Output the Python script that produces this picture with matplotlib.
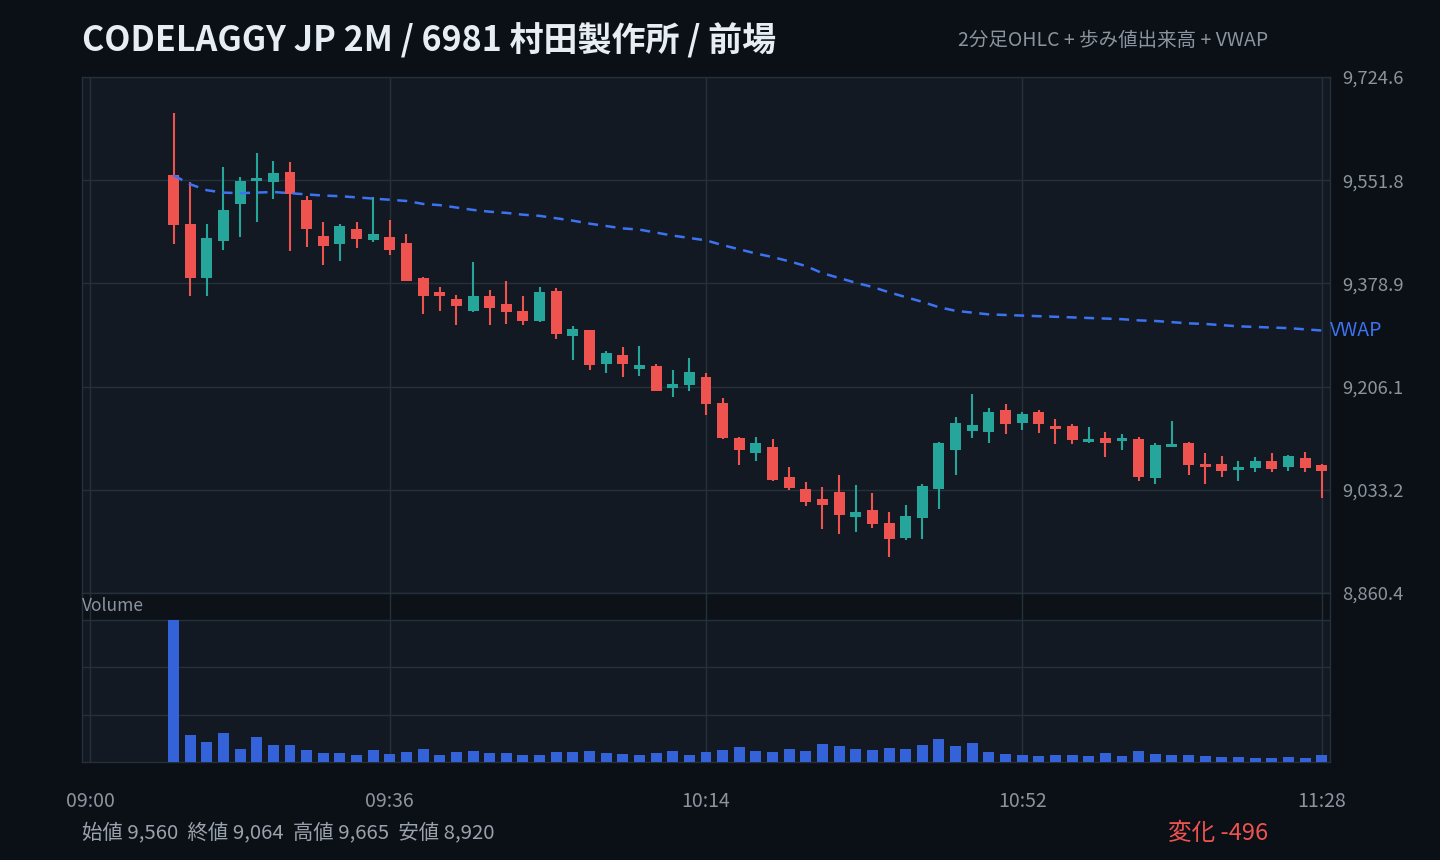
import numpy as np
import matplotlib
matplotlib.use("Agg")
import matplotlib.pyplot as plt

plt.rcParams['font.family'] = ['Noto Sans CJK JP', 'DejaVu Sans']

# --- data: 2-min bars, slots 09:00..11:28 (75 slots), prints start at slot 5 (09:10) ---
FIRST = 5
opens = [9560, 9478, 9388, 9450, 9512, 9550, 9549, 9565, 9518, 9458,
         9445, 9470, 9452, 9456, 9446, 9388, 9364, 9353, 9333, 9358,
         9344, 9333, 9316, 9366, 9291, 9301, 9244, 9259, 9236, 9241,
         9204, 9209, 9222, 9179, 9120, 9095, 9105, 9055, 9035, 9018,
         9030, 8988, 9000, 8978, 8953, 8986, 9035, 9100, 9132, 9130,
         9167, 9145, 9164, 9140, 9140, 9114, 9120, 9115, 9119, 9053,
         9105, 9112, 9077, 9077, 9067, 9070, 9082, 9072, 9087, 9075]
highs = [9665, 9549, 9478, 9574, 9557, 9597, 9584, 9582, 9525, 9482,
         9478, 9482, 9523, 9485, 9462, 9390, 9373, 9359, 9415, 9368,
         9383, 9358, 9373, 9371, 9308, 9301, 9266, 9272, 9274, 9244,
         9234, 9254, 9229, 9187, 9122, 9122, 9119, 9072, 9047, 9038,
         9058, 9042, 9028, 8996, 9008, 9043, 9114, 9155, 9194, 9170,
         9177, 9164, 9167, 9152, 9144, 9139, 9130, 9127, 9122, 9112,
         9149, 9114, 9095, 9090, 9082, 9088, 9095, 9092, 9097, 9077]
lows = [9445, 9358, 9357, 9435, 9457, 9482, 9521, 9434, 9440, 9410,
        9417, 9439, 9449, 9426, 9383, 9328, 9333, 9309, 9331, 9309,
        9311, 9309, 9314, 9286, 9251, 9234, 9229, 9222, 9224, 9199,
        9189, 9199, 9159, 9119, 9075, 9082, 9048, 9033, 9006, 8968,
        8960, 8963, 8970, 8920, 8950, 8951, 9001, 9058, 9120, 9112,
        9127, 9134, 9129, 9110, 9110, 9112, 9088, 9100, 9048, 9043,
        9105, 9058, 9043, 9055, 9048, 9063, 9063, 9065, 9063, 9020]
closes = [9476, 9388, 9455, 9502, 9550, 9555, 9564, 9529, 9470, 9442,
          9475, 9454, 9462, 9435, 9383, 9358, 9358, 9341, 9358, 9338,
          9331, 9316, 9364, 9294, 9303, 9242, 9262, 9244, 9242, 9199,
          9211, 9231, 9177, 9120, 9100, 9112, 9050, 9037, 9013, 9008,
          8991, 8996, 8976, 8951, 8990, 9040, 9112, 9145, 9142, 9164,
          9144, 9160, 9144, 9135, 9117, 9119, 9112, 9120, 9055, 9109,
          9110, 9075, 9072, 9065, 9072, 9082, 9068, 9090, 9070, 9064]
volumes = [428, 80, 59, 86, 38, 74, 50, 50, 35, 26,
           26, 20, 35, 23, 29, 38, 20, 29, 32, 26,
           26, 20, 20, 29, 29, 32, 26, 23, 20, 26,
           32, 20, 29, 35, 44, 32, 29, 38, 32, 53,
           47, 38, 35, 41, 38, 50, 68, 47, 56, 29,
           23, 20, 17, 20, 20, 17, 26, 17, 32, 23,
           20, 20, 17, 14, 14, 11, 11, 14, 11, 20]
vwap = [9560, 9545, 9535, 9531, 9530, 9531, 9532, 9530, 9528, 9526,
        9525, 9523, 9521, 9519, 9517, 9512, 9510, 9506, 9502, 9499,
        9497, 9494, 9492, 9488, 9484, 9479, 9475, 9471, 9469, 9464,
        9459, 9455, 9451, 9443, 9436, 9429, 9423, 9416, 9408, 9396,
        9388, 9380, 9373, 9364, 9356, 9348, 9339, 9333, 9330, 9327,
        9326, 9325, 9324, 9323, 9322, 9321, 9320, 9319, 9317, 9316,
        9314, 9312, 9311, 9309, 9307, 9306, 9305, 9304, 9302, 9300]
tick_labels = ["09:00", "09:36", "10:14", "10:52", "11:28"]
N_SLOTS = 75

BG = "#0b0f16"
PANEL = "#121922"
BAND = "#0d1219"
GRID = "#26303b"
UP = "#26a69a"
DOWN = "#ef5350"
VOL = "#3462d9"
VWAPC = "#3d72f2"
TXT = "#8b949e"

o = np.array(opens); h = np.array(highs); l = np.array(lows); c = np.array(closes)
x = np.arange(FIRST, FIRST + len(o))
cols = np.where(c >= o, UP, DOWN)

fig = plt.figure(figsize=(14.4, 8.6), dpi=100, facecolor=BG)
W, H = 1440, 860
ax = fig.add_axes([82 / W, 1 - 593 / H, 1248 / W, 516 / H], facecolor=PANEL)
axv = fig.add_axes([82 / W, 1 - 762 / H, 1248 / W, 169 / H], facecolor=PANEL)

xticks = np.round(np.linspace(0, N_SLOTS - 1, 5))
for a in (ax, axv):
    a.set_xlim(-0.5, N_SLOTS - 0.5)
    a.set_xticks(xticks)
    for s in a.spines.values():
        s.set_color(GRID)
        s.set_linewidth(1)
    a.grid(True, color=GRID, lw=1)
    a.set_axisbelow(True)

# price panel
rng = h.max() - l.min()
lo, hi = l.min() - 0.08 * rng, h.max() + 0.08 * rng
ax.set_ylim(lo, hi)
yt = np.linspace(lo, hi, 6)
ax.set_yticks(yt)
ax.set_yticklabels([f"{v:,.1f}" for v in yt])
ax.yaxis.tick_right()
ax.tick_params(axis='y', length=0, pad=8.5, labelsize=13.3, labelcolor=TXT)
ax.tick_params(axis='x', length=0, labelbottom=False)

ax.vlines(x, l, h, colors=cols, lw=1.5, zorder=2)
body = np.maximum(np.abs(c - o), 2.0)
ax.bar(x, body, bottom=np.minimum(o, c), width=0.66, color=cols, zorder=3)
ax.plot(x, vwap, color=VWAPC, lw=1.8, ls=(0, (4, 3)), zorder=4)
ax.text(N_SLOTS - 0.5, vwap[-1], "VWAP", color=VWAPC, fontsize=14,
        va='center', ha='left', clip_on=False)

# volume panel (with darker header band on top)
v = np.array(volumes)
vmax = v.max()
axv.set_ylim(0, vmax * 169 / 142)
axv.axhspan(vmax, vmax * 169 / 142, color=BAND, zorder=0.5, lw=0)
axv.set_yticks([vmax / 3, 2 * vmax / 3, vmax])
axv.tick_params(axis='y', length=0, labelleft=False)
axv.bar(x, v, width=0.66, color=VOL, zorder=3)
axv.set_xticklabels(tick_labels)
axv.tick_params(axis='x', length=0, pad=21, labelsize=14, labelcolor=TXT)
fig.text(82 / W, 1 - 606 / H, "Volume", color=TXT, fontsize=12.5,
         va='center', ha='left')

# header / footer
fig.text(82 / W, 1 - 41 / H, "CODELAGGY JP 2M / 6981 村田製作所 / 前場",
         color="#e6edf3", fontsize=24.5, fontweight='bold', va='center', ha='left')
fig.text(1268 / W, 1 - 40 / H, "2分足OHLC + 歩み値出来高 + VWAP",
         color=TXT, fontsize=14, va='center', ha='right')
fig.text(82 / W, 1 - 833 / H,
         f"始値 {o[0]:,}  終値 {c[-1]:,}  高値 {h.max():,}  安値 {l.min():,}",
         color="#9aa3ad", fontsize=14.7, va='center', ha='left')
fig.text(1268 / W, 1 - 833 / H, f"変化 {c[-1] - o[0]:+,}".replace("+", ""),
         color=DOWN, fontsize=17, va='center', ha='right')

fig.savefig("out.png", dpi=100, facecolor=BG)
